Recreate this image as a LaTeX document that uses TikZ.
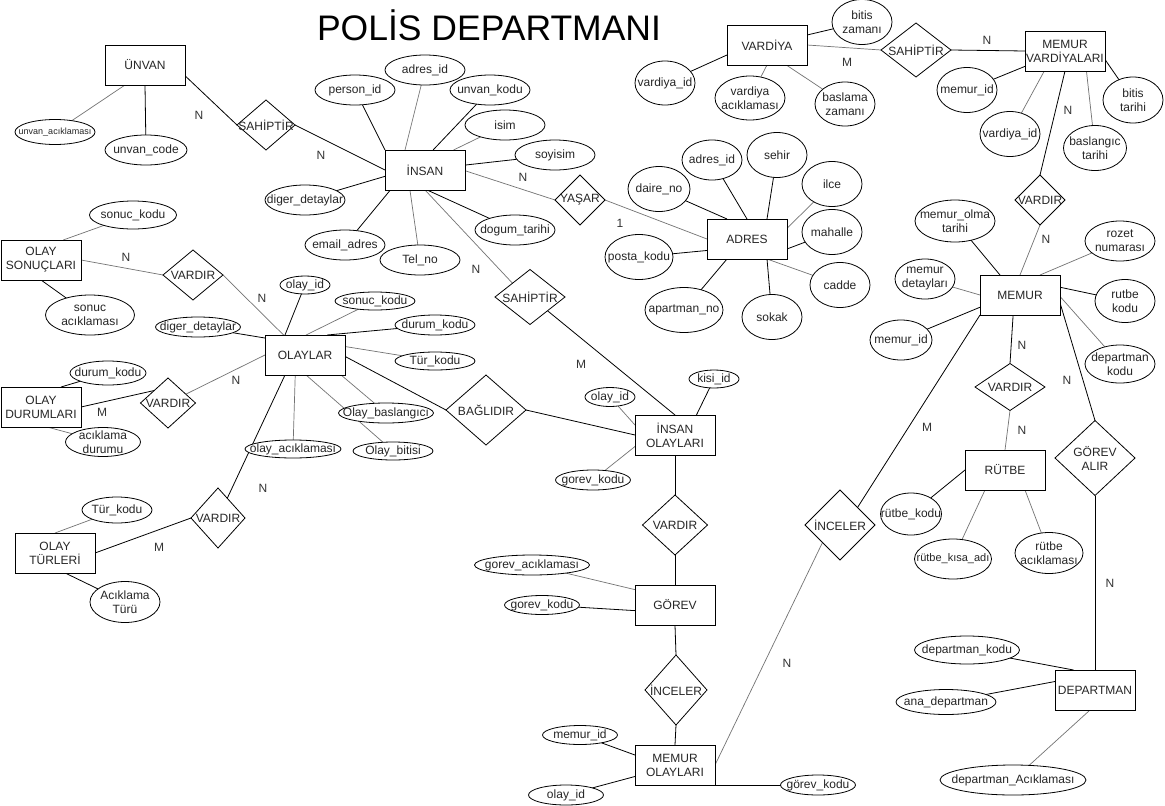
\documentclass[tikz,border=0pt]{standalone}
\usepackage{fontspec}
\setmainfont{Liberation Sans}
\usetikzlibrary{shapes.geometric,calc}
\pgfdeclarelayer{bg}
\pgfsetlayers{bg,main}
\tikzset{
 rbox/.style={draw=black, line width=0.8pt, fill=white, minimum width=80pt, minimum height=40pt, inner sep=0pt, outer sep=0pt},
 ebox/.style={ellipse, draw=black, line width=0.8pt, fill=white, inner sep=0pt, outer sep=0pt},
 dbox/.style={diamond, draw=black, line width=0.8pt, fill=white, inner sep=0pt, outer sep=0pt},
 txt/.style={inner sep=0pt, align=center, font=\fontsize{12}{14}\selectfont, text=black!85},
 ln/.style={draw=black, line width=0.8pt},
 gl/.style={draw=black!55, line width=0.7pt},
 card/.style={font=\fontsize{12}{14}\selectfont, text=black!80, inner sep=0pt},
}
\newcommand{\RE}[3]{\node[rbox] (#1) at (#2) {}; \node[txt] (#1t) at (#1) {#3};}
\newcommand{\EL}[5]{\node[ebox, minimum width=#3pt, minimum height=#4pt] (#1) at (#2) {}; \node[txt] (#1t) at (#1) {#5};}
\newcommand{\DI}[5]{\node[dbox, minimum width=#3pt, minimum height=#4pt] (#1) at (#2) {}; \node[txt] (#1t) at (#1) {#5};}
\begin{document}
\begin{tikzpicture}[x=1pt,y=-1pt]
\begin{pgfonlayer}{bg}
\fill[white] (0,0) rectangle (1165,806);
\end{pgfonlayer}
\path[use as bounding box] (0,0) rectangle (1165,806);

\node[font=\fontsize{35.5}{40}\selectfont, anchor=base, inner sep=0pt] (title) at (489,40) {POLİS DEPARTMANI};

% entities
\RE{unv}{145,65}{ÜNVAN}
\RE{ins}{425,170}{İNSAN}
\RE{vrd}{767,45}{VARDİYA}
\RE{mv}{1065,51}{MEMUR\\VARDİYALARI}
\RE{adr}{747,239}{ADRES}
\RE{osn}{41,260}{OLAY\\SONUÇLARI}
\RE{oly}{305,355}{OLAYLAR}
\RE{odr}{41,407}{OLAY\\DURUMLARI}
\RE{otr}{55,553}{OLAY\\TÜRLERİ}
\RE{io}{675,435}{İNSAN\\OLAYLARI}
\RE{grv}{675,605}{GÖREV}
\RE{mo}{675,765}{MEMUR\\OLAYLARI}
\RE{mem}{1020,295}{MEMUR}
\RE{rtb}{1005,470}{RÜTBE}
\RE{dep}{1095,690}{DEPARTMAN}

% relationships
\DI{s1}{266,125}{58}{50}{SAHİPTİR}
\DI{yas}{580,200}{50}{50}{YAŞAR}
\DI{smid}{530,297}{70}{55}{SAHİPTİR}
\DI{sr}{916,50}{70}{54}{SAHİPTİR}
\DI{vt}{1040,200}{50}{50}{VARDIR}
\DI{v1}{193,275}{60}{50}{VARDIR}
\DI{v2}{168,403}{55}{50}{VARDIR}
\DI{v3}{218,518}{54}{60}{VARDIR}
\DI{bag}{486,410}{80}{70}{BAĞLIDIR}
\DI{vg}{675,525}{65}{60}{VARDIR}
\DI{inc1}{676,690}{62}{70}{İNCELER}
\DI{inc2}{840,525}{70}{70}{İNCELER}
\DI{vm}{1010,387}{70}{47}{VARDIR}
\DI{ga}{1095,458}{80}{75}{GÖREV\\ALIR}

% attributes
\EL{uac}{55,132}{80}{25}{\fontsize{9}{11}\selectfont unvan\_acıklaması}
\EL{ucd}{146,150}{82}{30}{unvan\_code}
\EL{pid}{355,90}{80}{30}{person\_id}
\EL{aid}{425,70}{80}{30}{adres\_id}
\EL{ukd}{490,90}{80}{30}{unvan\_kodu}
\EL{isim}{505,125}{80}{30}{isim}
\EL{soy}{555,155}{80}{30}{soyisim}
\EL{dgt}{515,230}{80}{30}{dogum\_tarihi}
\EL{tel}{420,260}{80}{30}{Tel\_no}
\EL{eml}{345,245}{80}{30}{email\_adres}
\EL{idd}{305,200}{80}{30}{diger\_detaylar}

\EL{vid}{665,83}{60}{44}{vardiya\_id}
\EL{vac}{750,98}{70}{44}{vardiya\\acıklaması}
\EL{bsz}{845,104}{60}{44}{baslama\\zamanı}
\EL{btz}{862,22}{60}{45}{bitis\\zamanı}
\EL{mid1}{967,90}{60}{45}{memur\_id}
\EL{vid2}{1010,134}{60}{45}{vardiya\_id}
\EL{bst}{1095,148}{63}{45}{baslangıc\\tarihi}
\EL{btt}{1133,100}{60}{46}{bitis\\tarihi}

\EL{aid2}{712,160}{60}{40}{adres\_id}
\EL{seh}{777,155}{60}{45}{sehir}
\EL{ilc}{832,184}{60}{45}{ilce}
\EL{dno}{659,189}{62}{45}{daire\_no}
\EL{mah}{832,232}{60}{45}{mahalle}
\EL{pko}{639,257}{68}{45}{posta\_kodu}
\EL{cad}{840,285}{60}{45}{cadde}
\EL{apt}{684,310}{78}{45}{apartman\_no}
\EL{sok}{772,317}{60}{45}{sokak}

\EL{sko}{133,215}{87}{28}{sonuc\_kodu}
\EL{sac}{90,315}{89}{40}{sonuc\\acıklaması}

\EL{odd}{198,327}{85}{20}{diger\_detaylar}
\EL{oid}{305,285}{50}{18}{olay\_id}
\EL{osk}{375,301}{80}{18}{sonuc\_kodu}
\EL{odk}{435,325}{80}{20}{durum\_kodu}
\EL{otk}{435,361}{80}{18}{Tür\_kodu}
\EL{obs}{386,413}{95}{20}{Olay\_baslangıcı}
\EL{obt}{393,451}{80}{18}{Olay\_bitisi}
\EL{oac}{293,449}{96}{18}{olay\_acıklaması}

\EL{dko2}{108,373}{76}{24}{durum\_kodu}
\EL{dac2}{103,442}{75}{29}{acıklama\\durumu}
\EL{tko}{117,510}{70}{26}{Tür\_kodu}
\EL{atr}{125,602}{70}{41}{Acıklama\\Türü}

\EL{kid}{714,379}{50}{18}{kisi\_id}
\EL{oid2}{610,397}{50}{19}{olay\_id}
\EL{gk1}{593,480}{75}{20}{gorev\_kodu}
\EL{gac}{532,565}{115}{20}{gorev\_acıklaması}
\EL{gk2}{542,605}{75}{19}{gorev\_kodu}
\EL{mid3}{580,735}{75}{19}{memur\_id}
\EL{oid3}{566,795}{75}{20}{olay\_id}
\EL{gk3}{818,785}{75}{20}{görev\_kodu}

\EL{mot}{955,221}{80}{42}{memur\_olma\\tarihi}
\EL{roz}{1120,241}{70}{40}{rozet\\numarası}
\EL{mdt}{925,279}{60}{40}{memur\\detayları}
\EL{rkd}{1125,301}{60}{43}{rutbe\\kodu}
\EL{mid2}{901,340}{62}{40}{memur\_id}
\EL{dkd}{1120,364}{70}{38}{departman\\kodu}

\EL{rko}{911,514}{61}{42}{rütbe\_kodu}
\EL{rka}{953,559}{77}{40}{\fontsize{11}{13}\selectfont rütbe\_kısa\_adı}
\EL{rac}{1049,553}{68}{41}{rütbe\\acıklaması}

\EL{dko}{967,650}{105}{28}{departman\_kodu}
\EL{ana}{946,702}{100}{25}{ana\_departman}
\EL{dac}{1013,780}{146}{30}{departman\_Acıklaması}

% cardinalities
\node[card] (c1) at (199,115) {N};
\node[card] (c2) at (321,155) {N};
\node[card] (c3) at (523,177) {N};
\node[card] (c4) at (620,223) {1};
\node[card] (c5) at (476,269) {N};
\node[card] (c6) at (581,364) {M};
\node[card] (c7) at (126,257) {N};
\node[card] (c8) at (262,298) {N};
\node[card] (c9) at (236,380) {N};
\node[card] (c10) at (102,412) {M};
\node[card] (c11) at (263,488) {N};
\node[card] (c12) at (159,547) {M};
\node[card] (c13) at (987,40) {N};
\node[card] (c14) at (847,62) {M};
\node[card] (c15) at (1068,110) {N};
\node[card] (c16) at (1046,239) {N};
\node[card] (c17) at (1022,345) {N};
\node[card] (c18) at (1022,430) {N};
\node[card] (c19) at (1067,380) {N};
\node[card] (c20) at (927,427) {M};
\node[card] (c21) at (1110,583) {N};
\node[card] (c22) at (787,663) {N};

\begin{pgfonlayer}{bg}
% ÜNVAN
\draw[ln] (unv.-15.4) -- (s1.west);
\draw[ln] (s1.east) -- (ins.west);
\draw[gl] (unv.-135) -- (uac);
\draw[ln] (unv.south) -- (ucd);
% İNSAN
\draw[ln] (ins.north west) -- (pid);
\draw[gl] (ins.135) -- (aid);
\draw[ln] (ins.68) -- (ukd);
\draw[gl] (ins.35.5) -- (isim);
\draw[ln] (ins.7) -- (soy);
\draw[gl] (ins.-1.4) -- (yas.west);
\draw[gl] (yas.east) -- (adr.west);
\draw[ln] (ins.-84) -- (dgt);
\draw[gl] (ins.-127) -- (tel);
\draw[ln] (ins.-150) -- (eml);
\draw[ln] (ins.-171.5) -- (idd);
\draw[gl] (ins.south) -- ($(smid.north)!0.5!(smid.west)$);
\draw[ln] ($(smid.south)!0.5!(smid.east)$) -- (io.north);
% ADRES
\draw[ln] (adr.135) -- (dno);
\draw[ln] (adr.north) -- (aid2);
\draw[ln] (adr.45) -- (seh);
\draw[gl] (adr.15.4) -- (ilc);
\draw[ln] (adr.-14) -- (mah);
\draw[gl] (adr.-45) -- (cad);
\draw[ln] (adr.-45) -- (sok);
\draw[ln] (adr.-135) -- (apt);
\draw[ln] (adr.-164.6) -- (pko);
% VARDİYA
\draw[ln] (vrd.14) -- (btz);
\draw[gl] (vrd.east) -- (sr.west);
\draw[ln] (sr.east) -- (mv.west);
\draw[ln] (vrd.-166) -- (vid);
\draw[gl] (vrd.south) -- (vac);
\draw[gl] (vrd.-46.5) -- (bsz);
% MEMUR VARDİYALARI
\draw[ln] (mv.-159.4) -- (mid1);
\draw[gl] (mv.-136.4) -- (vid2);
\draw[ln] (mv.south) -- (vt.north);
\draw[gl] (mv.-43.6) -- (bst);
\draw[ln] (mv.-12.7) -- (btt);
\draw[gl] (vt.south) -- (mem.north);
% MEMUR
\draw[ln] (mem.135) -- (mot);
\draw[gl] (mem.west) -- (mdt);
\draw[ln] (mem.-163.3) -- (mid2);
\draw[gl] (mem.45) -- (roz);
\draw[ln] (mem.11.3) -- (rkd);
\draw[gl] (mem.-2.9) -- (dkd);
\draw[ln] (mem.-11.3) -- (ga.north);
\draw[ln] (mem.-109.3) -- (vm.north);
\draw[gl] (vm.south) -- (rtb.north);
\draw[ln] (mem.south west) -- ($(inc2.north)!0.5!(inc2.east)$);
\draw[gl] (mo.east) -- ($(inc2.south)!0.5!(inc2.west)$);
% RÜTBE
\draw[ln] (rtb.west) -- (rko);
\draw[gl] (rtb.-135) -- (rka);
\draw[gl] (rtb.-45) -- (rac);
% DEPARTMAN
\draw[ln] (ga.south) -- (dep.north);
\draw[ln] (dep.137.7) -- (dko);
\draw[ln] (dep.168.7) -- (ana);
\draw[gl] (dep.-104) -- (dac);
% OLAY SONUÇLARI
\draw[gl] (osn.east) -- (v1.west);
\draw[gl] (v1.east) -- (oly.137.7);
\draw[gl] (osn.42.3) -- (sko);
\draw[ln] (osn.south) -- (sac);
% OLAYLAR
\draw[ln] (oly.157) -- (odd);
\draw[ln] (oly.135) -- (oid);
\draw[gl] (oly.87) -- (osk);
\draw[ln] (oly.42.3) -- (odk);
\draw[gl] (oly.12.7) -- (otk);
\draw[ln] (oly.-2.9) -- (bag.west);
\draw[ln] (bag.east) -- (io.west);
\draw[gl] (oly.-29.7) -- (obs);
\draw[gl] (oly.-87) -- (obt);
\draw[gl] (oly.-116.6) -- (oac);
\draw[ln] (oly.-135) -- (v3);
\draw[gl] (oly.west) -- (v2);
% OLAY DURUMLARI
\draw[ln] (odr.east) -- ($(v2.west)!0.5!(v2.north)$);
\draw[ln] (odr.45) -- (dko2);
\draw[gl] (odr.-73) -- (dac2);
% OLAY TÜRLERİ
\draw[ln] (otr.east) -- (v3.west);
\draw[gl] (otr.north) -- (tko);
\draw[ln] (otr.-63.4) -- (atr);
% İNSAN OLAYLARI, GÖREV, MEMUR OLAYLARI
\draw[gl] (io.166) -- (oid2);
\draw[ln] (io.43.6) -- (kid);
\draw[gl] (io.-164.6) -- (gk1);
\draw[ln] (io.south) -- (vg.north);
\draw[ln] (vg.south) -- (grv.north);
\draw[gl] (grv.159.4) -- (gac);
\draw[ln] (grv.-172.9) -- (gk2);
\draw[ln] (grv.south) -- (inc1.north);
\draw[ln] (inc1.south) -- (mo.north);
\draw[ln] (mo.166) -- (mid3);
\draw[ln] (mo.-164.6) -- (oid3);
\draw[ln] (mo.-48) -- (gk3);
\end{pgfonlayer}
\end{tikzpicture}
\end{document}
